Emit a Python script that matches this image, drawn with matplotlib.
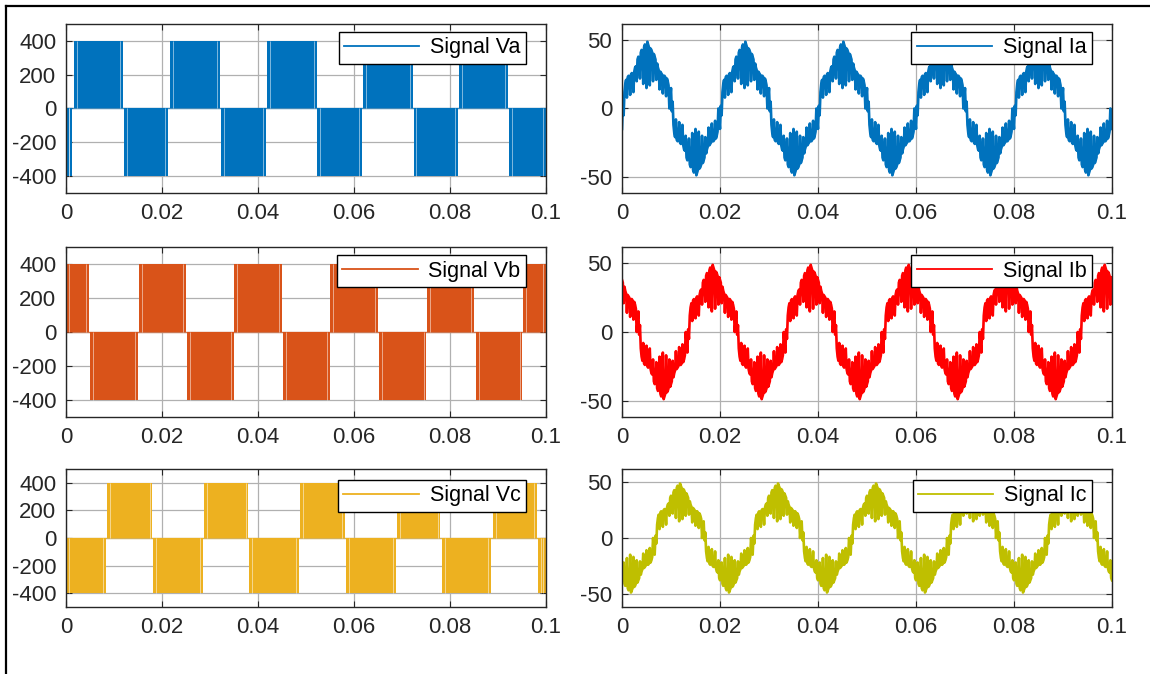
import numpy as np
import matplotlib.pyplot as plt
from matplotlib.lines import Line2D

plt.rcParams['font.family'] = ['Liberation Sans', 'DejaVu Sans']
plt.rcParams['axes.unicode_minus'] = False

x_ticks = [0, 0.02, 0.04, 0.06, 0.08, 0.1]
x_tick_labels = ["0", "0.02", "0.04", "0.06", "0.08", "0.1"]
v_ticks = [-400, -200, 0, 200, 400]
i_ticks = [-50, 0, 50]

# switching blocks of the phase voltages: start [s], end [s], level [V]
va_start = [0, 0.0016, 0.0121, 0.0216, 0.0323, 0.0418, 0.0523, 0.0619, 0.0724, 0.0818, 0.0923]
va_end = [0.0013, 0.0119, 0.0213, 0.0320, 0.0416, 0.0522, 0.0616, 0.0723, 0.0816, 0.0921, 0.1]
va_level = [-400, 400, -400, 400, -400, 400, -400, 400, -400, 400, -400]

vb_start = [0, 0.0051, 0.0152, 0.0252, 0.0351, 0.0452, 0.0551, 0.0653, 0.0752, 0.0854, 0.0952]
vb_end = [0.0048, 0.0149, 0.0249, 0.0350, 0.0450, 0.0549, 0.0650, 0.0751, 0.0850, 0.0951, 0.1]
vb_level = [400, -400, 400, -400, 400, -400, 400, -400, 400, -400, 400]

vc_start = [0, 0.0085, 0.0182, 0.0287, 0.0382, 0.0488, 0.0584, 0.0690, 0.0783, 0.0889, 0.0984]
vc_end = [0.0083, 0.0180, 0.0285, 0.0380, 0.0485, 0.0581, 0.0687, 0.0780, 0.0886, 0.0981, 0.1]
vc_level = [-400, 400, -400, 400, -400, 400, -400, 400, -400, 400, -400]

# narrow pulses seen as thin gaps near the block edges [s from edge]
gap_offset = [0.0006]

# phase current Ia, one half cycle (1/6 ms steps)
ia_half = [-15, 2, -5, 12, 18, 21, 8, 23, 24, 23,
           10, 25, 26, 24, 12, 27, 30, 31, 20, 36,
           38, 36, 22, 41, 43, 42, 18, 45, 47, 45,
           15, 49, 47, 45, 17, 44, 43, 41, 20, 40,
           38, 36, 21, 33, 30, 28, 14, 27, 26, 25,
           11, 24, 24, 23, 9, 22, 20, 17, 0, 8]
n_periods = 5
ib_lag = 80   # samples (2/3 period)
ic_lag = 40   # samples (1/3 period)

period = np.array(ia_half + [-v for v in ia_half], dtype=float)
n = len(period)
t = np.linspace(0, 0.1, n * n_periods + 1)


def phase(lag):
    p = np.roll(period, lag)
    return np.append(np.tile(p, n_periods), p[0])


ia = phase(0)
ib = phase(ib_lag)
ic = phase(ic_lag)

c_blue = "#0072BD"
c_orange = "#D95319"
c_yellow = "#EDB120"
c_red = "#FF0000"
c_olive = "#BFBF00"

fig = plt.figure(figsize=(11.5, 6.74), dpi=100)

left_x, left_w = 66 / 1150, 480 / 1150
right_x, right_w = 622 / 1150, 490 / 1150
rows = [(24, 193), (247, 417), (469, 607)]


def style(ax, yticks, ylim):
    ax.set_xlim(0, 0.1)
    ax.set_ylim(*ylim)
    ax.set_xticks(x_ticks)
    ax.set_xticklabels(x_tick_labels)
    ax.set_yticks(yticks)
    ax.grid(True, color="#b0b0b0", lw=0.9)
    ax.set_axisbelow(True)
    ax.tick_params(direction="in", length=4, width=0.8, top=True, right=True,
                   labelsize=16, colors="#262626", pad=7)
    for s in ax.spines.values():
        s.set_color("#262626")
        s.set_linewidth(1.0)


def legend(ax, color, label, anchor):
    h = Line2D([], [], color=color, lw=1.3)
    leg = ax.legend([h], [label], loc="upper right", bbox_to_anchor=anchor,
                    borderaxespad=0, fontsize=15.5, frameon=True, fancybox=False,
                    framealpha=1, edgecolor="black", handlelength=3.5,
                    handletextpad=0.5, borderpad=0.25)
    leg.get_frame().set_linewidth(1.0)
    leg.set_zorder(10)


volt = [(va_start, va_end, va_level, c_blue, "Signal Va"),
        (vb_start, vb_end, vb_level, c_orange, "Signal Vb"),
        (vc_start, vc_end, vc_level, c_yellow, "Signal Vc")]
curr = [(ia, c_blue, "Signal Ia"),
        (ib, c_red, "Signal Ib"),
        (ic, c_olive, "Signal Ic")]

for k, (top, bot) in enumerate(rows):
    y0 = 1 - bot / 674
    h = (bot - top) / 674

    ax = fig.add_axes([left_x, y0, left_w, h])
    st, en, lv, col, lab = volt[k]
    st = np.array(st)
    en = np.array(en)
    lv = np.array(lv)
    ax.axhline(0, color=col, lw=1.0, alpha=0.6)
    ax.bar(st, lv, width=en - st, align="edge", color=col, linewidth=0)
    # thin gaps from the narrow pulses near each block edge
    for off in gap_offset:
        for s0, e0, l0 in zip(st, en, lv):
            for xg in (s0 + off, e0 - off):
                if s0 < xg < e0 and 0 < xg < 0.1:
                    ax.vlines(xg, 0, l0, color="white", lw=0.7, alpha=0.5)
    style(ax, v_ticks, (-500, 500))
    legend(ax, col, lab, (0.958, 0.952 if k < 2 else 0.92))

    ax = fig.add_axes([right_x, y0, right_w, h])
    y, col, lab = curr[k]
    ax.plot(t, y, color=col, lw=1.9)
    style(ax, i_ticks, (-62, 62))
    legend(ax, col, lab, (0.959, 0.952 if k < 2 else 0.92))

# screenshot frame lines
fig.add_artist(Line2D([6 / 1150, 1], [1 - 6 / 674, 1 - 6 / 674], color="black", lw=1.6))
fig.add_artist(Line2D([6 / 1150, 6 / 1150], [0, 1 - 6 / 674], color="black", lw=1.6))

fig.savefig("out.png", dpi=100)
